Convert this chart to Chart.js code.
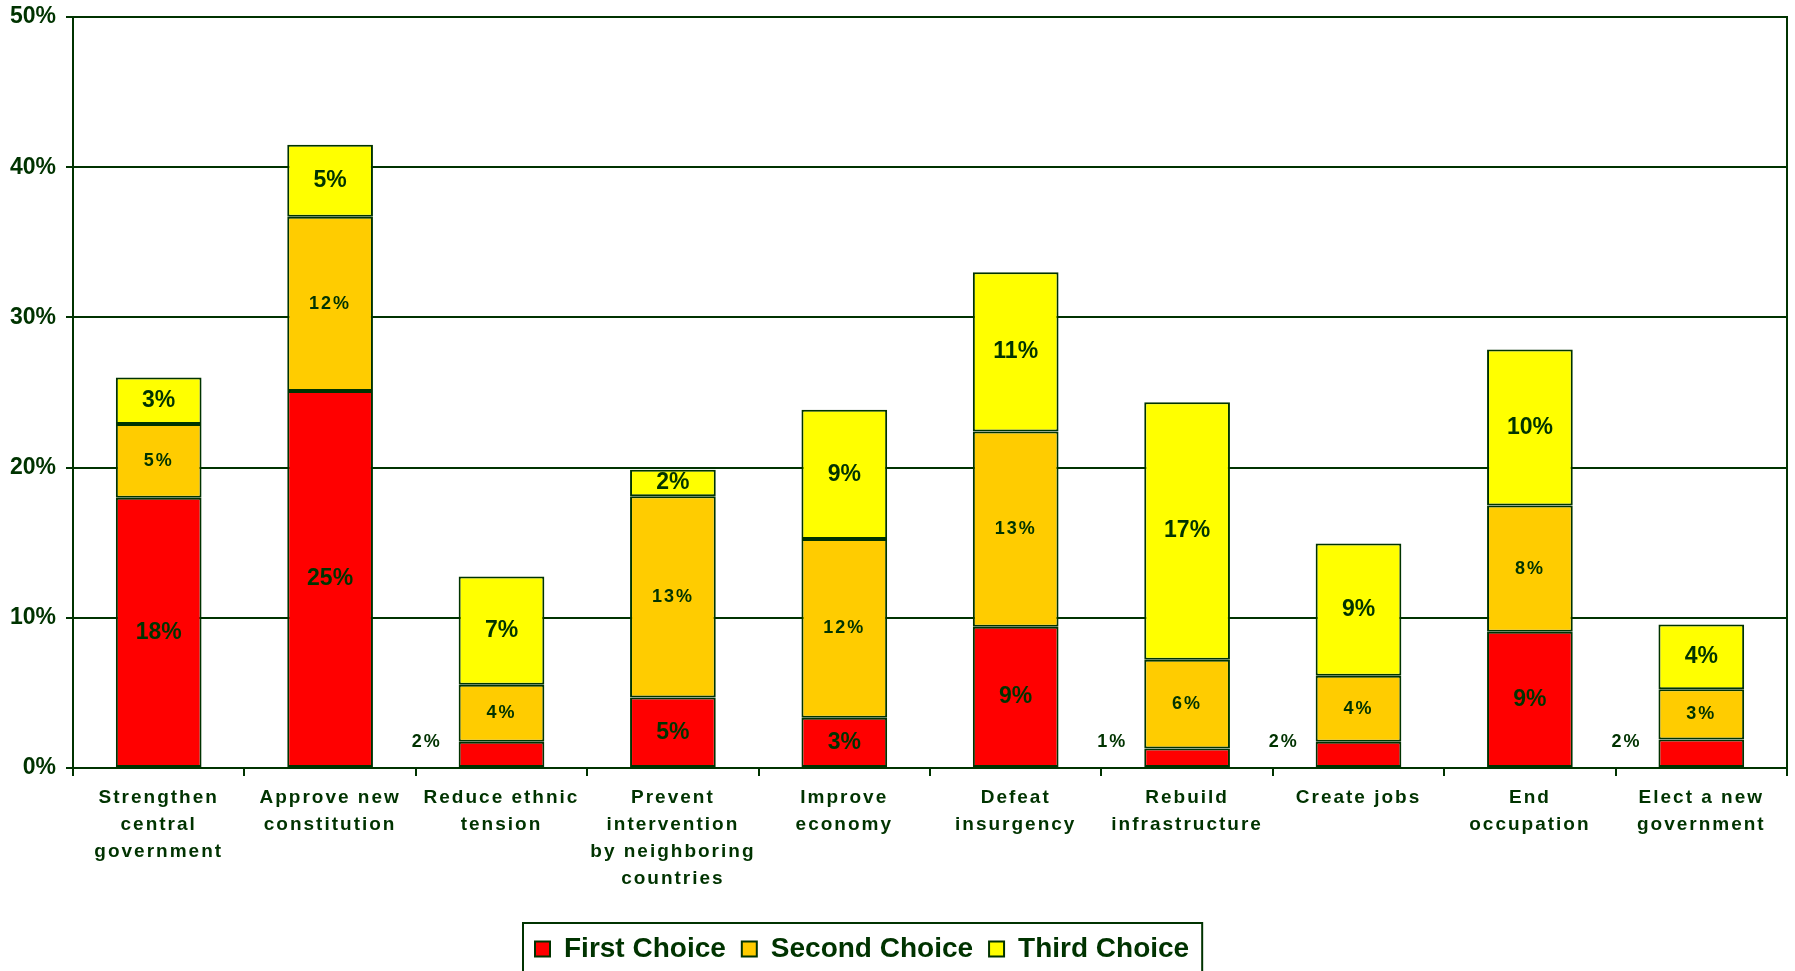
<!DOCTYPE html>
<html>
<head>
<meta charset="utf-8">
<script src="https://cdn.jsdelivr.net/npm/chart.js@4"></script>
<style>
  body { margin: 0; background: #fff; }
  #wrap { width: 1795px; height: 971px; position: relative; }
</style>
</head>
<body>
<div id="wrap"><canvas id="chart"></canvas></div>
<script>
const categories = [
  ['Strengthen', 'central', 'government'],
  ['Approve new', 'constitution'],
  ['Reduce ethnic', 'tension'],
  ['Prevent', 'intervention', 'by neighboring', 'countries'],
  ['Improve', 'economy'],
  ['Defeat', 'insurgency'],
  ['Rebuild', 'infrastructure'],
  ['Create jobs'],
  ['End', 'occupation'],
  ['Elect a new', 'government']
];
const firstChoice  = [18.0, 25.1, 1.75, 4.7, 3.35, 9.4, 1.3, 1.75, 9.07, 1.9];
const secondChoice = [4.9, 11.6, 3.8, 13.4, 11.9, 13.0, 5.9, 4.4, 8.4, 3.35];
const thirdChoice  = [3.1, 4.8, 7.2, 1.75, 8.6, 10.6, 17.15, 8.8, 10.4, 4.3];
const seriesNames = ['First Choice', 'Second Choice', 'Third Choice'];
const yTicks = [0, 10, 20, 30, 40, 50];

const GREEN = '#003300';
const FONT = '"Liberation Sans", Arial, sans-serif';
Chart.defaults.font.family = FONT;
Chart.defaults.color = GREEN;

// value labels drawn on / beside each segment
const segmentLabels = {
  id: 'segmentLabels',
  afterDatasetsDraw(chart) {
    const ctx = chart.ctx;
    ctx.save();
    ctx.fillStyle = GREEN;
    ctx.textAlign = 'center';
    ctx.textBaseline = 'middle';
    chart.data.datasets.forEach((ds, i) => {
      chart.getDatasetMeta(i).data.forEach((bar, j) => {
        const v = ds.data[j];
        const p = bar.getProps(['x', 'y', 'base', 'width'], true);
        const txt = Math.round(v) + '%';
        let x = p.x, y = (p.y + p.base) / 2, small = (i === 1);
        if (i === 0 && v < 2.5) {
          // too thin: label sits to the left of the bar
          x = p.x - p.width / 2 - 32;
          y = p.base - 25;
          small = true;
        }
        if (small) {
          ctx.font = 'bold 18px ' + FONT;
          ctx.letterSpacing = '2px';
        } else {
          ctx.font = 'bold 23px ' + FONT;
          ctx.letterSpacing = '0px';
        }
        ctx.fillText(txt, x, y);
      });
    });
    ctx.restore();
  }
};

// right frame line, legend frame, spaced x labels
const frame = {
  id: 'frame',
  afterLayout(chart) {
    const lg = chart.legend;
    const pad = lg.options.labels.padding;
    const lw = lg.lineWidths[0];
    const start = (lg.left + pad + lg.right - lw) / 2;
    const shift = 535 - start;
    lg.left += shift;
    lg.right += shift;
  },
  beforeDraw(chart) {
    const sx = chart.scales.x;
    if (!sx._spaced) {
      const orig = sx.drawLabels;
      sx.drawLabels = function (area) {
        const c = this.ctx;
        c.save();
        c.letterSpacing = '2px';
        orig.call(this, area);
        c.restore();
      };
      sx._spaced = true;
    }
  },
  afterDraw(chart) {
    const ctx = chart.ctx;
    const a = chart.chartArea;
    ctx.save();
    ctx.strokeStyle = GREEN;
    ctx.lineWidth = 2;
    ctx.beginPath();
    ctx.moveTo(a.right, a.top - 1);
    ctx.lineTo(a.right, a.bottom);
    ctx.stroke();

    const lg = chart.legend;
    const pad = lg.options.labels.padding;
    const lw = lg.lineWidths[0];
    const start = (lg.left + pad + lg.right - lw) / 2;
    const end = start + lw - pad;
    ctx.strokeRect(start - 12, lg.top + 4, end - start + 25, 80);
    ctx.restore();
  }
};

new Chart(document.getElementById('chart'), {
  type: 'bar',
  data: {
    labels: categories,
    datasets: [
      { label: seriesNames[0], data: firstChoice, backgroundColor: '#FF0000' },
      { label: seriesNames[1], data: secondChoice, backgroundColor: '#FFCC00' },
      { label: seriesNames[2], data: thirdChoice, backgroundColor: '#FFFF00' }
    ].map(d => Object.assign(d, {
      borderColor: GREEN,
      borderWidth: 2,
      borderSkipped: false,
      categoryPercentage: 1,
      barPercentage: 0.5
    }))
  },
  options: {
    responsive: true,
    maintainAspectRatio: false,
    animation: false,
    layout: { padding: { top: 17, right: 8, bottom: -2, left: 0 } },
    plugins: {
      tooltip: { enabled: false },
      legend: {
        position: 'bottom',
        labels: {
          boxWidth: 15,
          boxHeight: 15,
          padding: 16,
          color: GREEN,
          font: { size: 28, weight: 'bold' }
        }
      }
    },
    scales: {
      x: {
        stacked: true,
        afterFit(s) { s.height = 151; },
        border: { display: true, color: GREEN, width: 2 },
        grid: { drawOnChartArea: false, drawTicks: true, tickLength: 8, color: GREEN, lineWidth: 2, offset: true },
        ticks: {
          color: GREEN,
          padding: 8,
          maxRotation: 0,
          autoSkip: false,
          font: { size: 19, weight: 'bold', lineHeight: 1.42 }
        }
      },
      y: {
        stacked: true,
        min: yTicks[0],
        max: yTicks[yTicks.length - 1],
        afterFit(s) { s.width = 73; s.paddingTop = 0; s.paddingBottom = 0; },
        afterBuildTicks(s) { s.ticks = yTicks.map(v => ({ value: v })); },
        border: { display: true, color: GREEN, width: 2 },
        grid: { color: GREEN, lineWidth: 2, tickLength: 7 },
        ticks: {
          color: GREEN,
          padding: 10,
          font: { size: 23, weight: 'bold' },
          callback: v => v + '%'
        }
      }
    }
  },
  plugins: [segmentLabels, frame]
});
</script>
</body>
</html>
